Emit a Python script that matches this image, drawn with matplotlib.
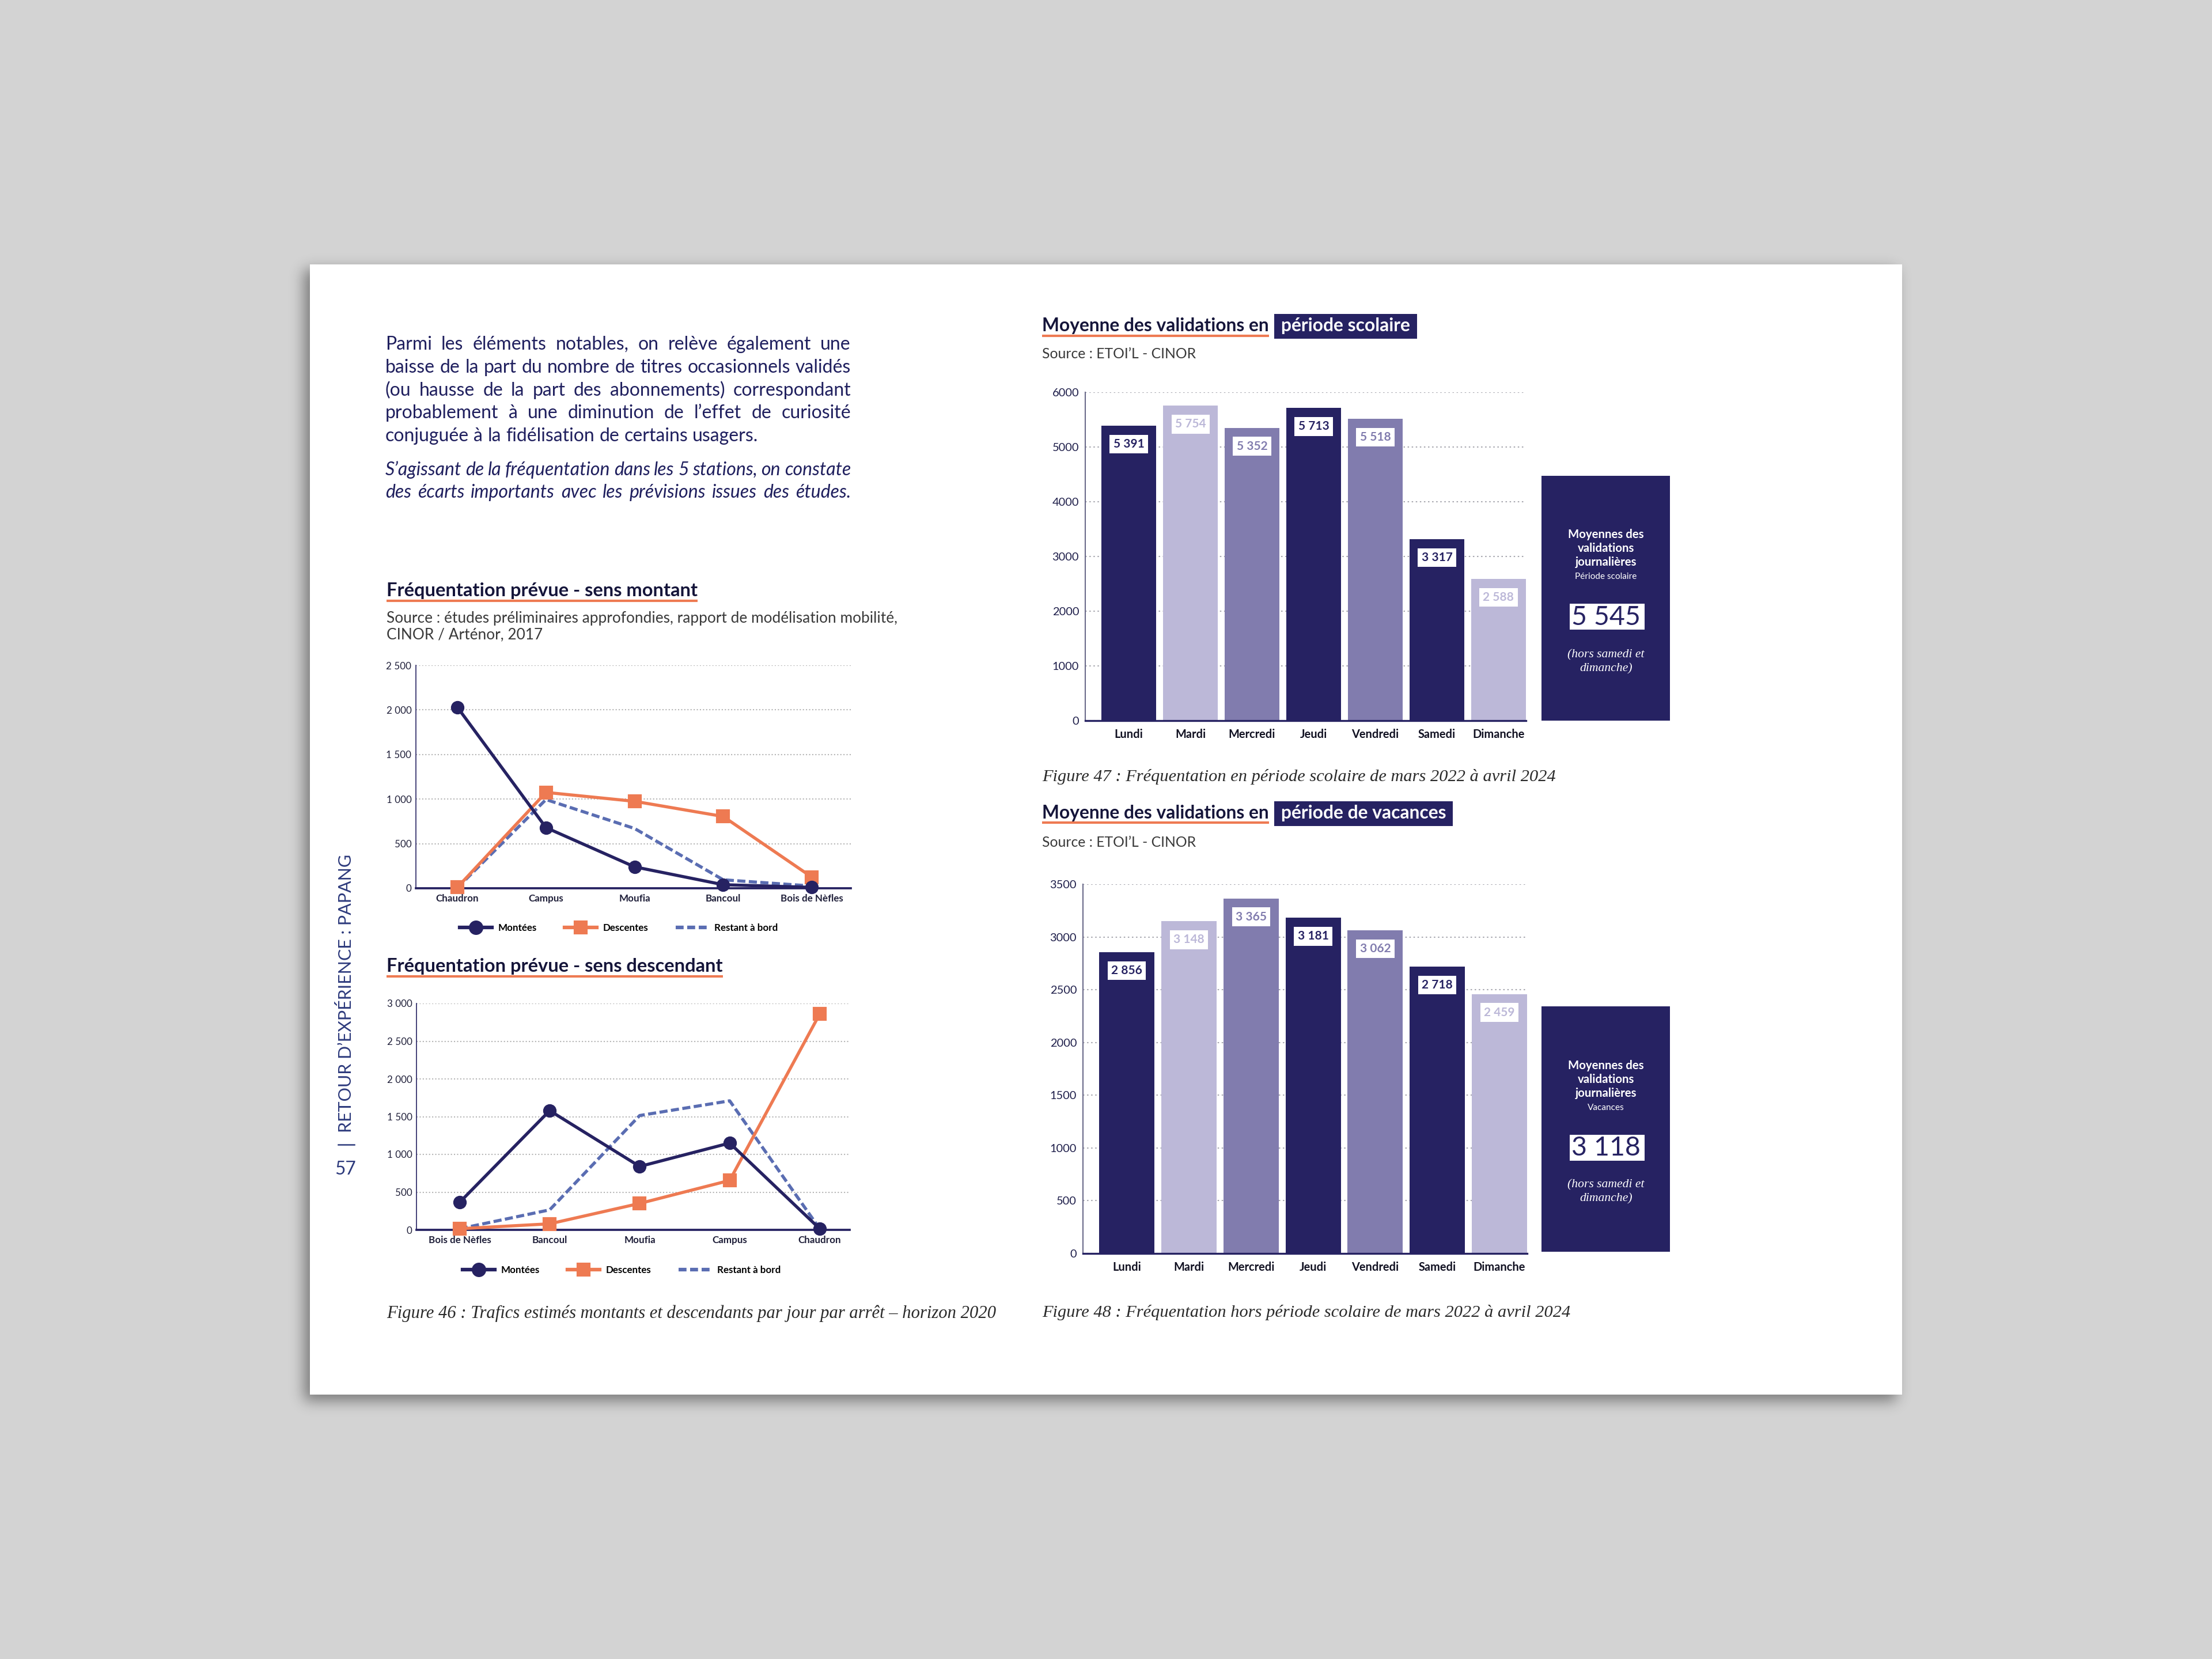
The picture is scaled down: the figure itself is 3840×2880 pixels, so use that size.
import matplotlib
matplotlib.use("Agg")
import matplotlib.pyplot as plt
from matplotlib.patches import Rectangle
from matplotlib.lines import Line2D
import numpy as np

# ---------------- data ----------------
stations_montant = ["Chaudron", "Campus", "Moufia", "Bancoul", "Bois de Nèfles"]
montant_montees = [2030, 680, 240, 40, 10]
montant_descentes = [10, 1075, 975, 805, 125]
montant_restant = [5, 995, 670, 95, 25]

stations_descendant = ["Bois de Nèfles", "Bancoul", "Moufia", "Campus", "Chaudron"]
descendant_montees = [365, 1580, 840, 1150, 15]
descendant_descentes = [15, 80, 350, 655, 2860]
descendant_restant = [15, 265, 1515, 1710, 15]

jours = ["Lundi", "Mardi", "Mercredi", "Jeudi", "Vendredi", "Samedi", "Dimanche"]
validations_scolaire = [5391, 5754, 5352, 5713, 5518, 3317, 2588]
validations_vacances = [2856, 3148, 3365, 3181, 3062, 2718, 2459]
moyenne_scolaire = 5545
moyenne_vacances = 3118

legend_labels = ["Montées", "Descentes", "Restant à bord"]

paragraph = [
    "Parmi les éléments notables, on relève également une",
    "baisse de la part du nombre de titres occasionnels validés",
    "(ou hausse de la part des abonnements) correspondant",
    "probablement à une diminution de l’effet de curiosité",
    "conjuguée à la fidélisation de certains usagers.",
]
paragraph_it = [
    "S’agissant de la fréquentation dans les 5 stations, on constate",
    "des écarts importants avec les prévisions issues des études.",
]

# ---------------- styles ----------------
W, H, DPI = 3840, 2880, 300
PX = 72 / DPI
NAVY = "#262262"
LIGHT = "#bcb8d8"
MID = "#817cae"
ORANGE = "#ee7a52"
DASHC = "#5a6db2"
TXT = "#1f1f5e"
TITLE = "#15153a"
SANS = "Lato"
SERIF = "Liberation Serif"
BAR_COLORS = [NAVY, LIGHT, MID, NAVY, MID, NAVY, LIGHT]
BG = np.array([0xd3, 0xd3, 0xd3]) / 255

fig = plt.figure(figsize=(W / DPI, H / DPI), dpi=DPI, facecolor=BG)
R = fig.canvas.get_renderer()


def FX(x):
    return x / W


def FY(y):
    return 1 - y / H


def T(x, y, s, **kw):
    kw.setdefault("family", SANS)
    return fig.text(FX(x), FY(y), s, **kw)


def rect(x0, y0, x1, y1, **kw):
    r = Rectangle((FX(x0), FY(y1)), (x1 - x0) / W, (y1 - y0) / H,
                  transform=fig.transFigure, **kw)
    fig.add_artist(r)
    return r


def hline(x0, x1, y, **kw):
    fig.add_artist(Line2D([FX(x0), FX(x1)], [FY(y), FY(y)],
                          transform=fig.transFigure, **kw))


def add_ax(x0, y0, x1, y1):
    ax = fig.add_axes([FX(x0), FY(y1), (x1 - x0) / W, (y1 - y0) / H])
    ax.set_facecolor("none")
    return ax


def fit(t, target, vertical=False):
    bb = t.get_window_extent(R)
    cur = bb.height if vertical else bb.width
    t.set_fontsize(t.get_fontsize() * target / cur)
    return t


def fmt(v):
    return f"{int(v):,}".replace(",", " ")


# ---------------- page + soft shadow ----------------
PAGE = (538, 459, 3302, 2421)
S = 4  # shadow raster down-sampling
sh = np.zeros((H // S, W // S))
ox, oy = -9, 11
sh[(PAGE[1] + oy) // S:(PAGE[3] + oy) // S, (PAGE[0] + ox) // S:(PAGE[2] + ox) // S] = 1.0
sig = 12 / S
kx = np.arange(-int(4 * sig), int(4 * sig) + 1)
kern = np.exp(-0.5 * (kx / sig) ** 2)
kern /= kern.sum()
sh = np.apply_along_axis(lambda r: np.convolve(r, kern, mode="same"), 1, sh)
sh = np.apply_along_axis(lambda c: np.convolve(c, kern, mode="same"), 0, sh)
rgba = np.zeros((H // S, W // S, 4))
rgba[..., 3] = 0.42 * sh
bgax = fig.add_axes([0, 0, 1, 1], zorder=-30)
bgax.imshow(rgba, extent=(0, W, H, 0), interpolation="bilinear", aspect="auto")
bgax.set_xlim(0, W)
bgax.set_ylim(H, 0)
bgax.axis("off")
rect(*PAGE, facecolor="white", edgecolor="none", zorder=-10)

# ---------------- side marker ----------------
vt = T(600, 1724, "RETOUR D’EXPÉRIENCE : PAPANG", rotation=90, ha="center",
       va="center", color="#2d3a7c", fontsize=8)
fit(vt, 485, vertical=True)
hline(587, 615, 1987, color="#2d3a7c", lw=0.6)
T(600, 2030, "57", ha="center", va="center", color="#2d3a7c", fontsize=7.6)

# ---------------- paragraph ----------------
X0, X1 = 669, 1477


def justify(y, line, size, last=False, **kw):
    words = line.split(" ")
    ts = [T(X0, y, w, fontsize=size, va="center", color=TXT, **kw) for w in words]
    ws = [t.get_window_extent(R).width for t in ts]
    if last:
        p1 = T(0, 0, "a a", fontsize=size, **kw)
        p2 = T(0, 0, "aa", fontsize=size, **kw)
        gap = p1.get_window_extent(R).width - p2.get_window_extent(R).width
        p1.remove()
        p2.remove()
    else:
        gap = (X1 - X0 - sum(ws)) / (len(words) - 1)
    x = X0
    for t, w in zip(ts, ws):
        t.set_x(FX(x))
        x += w + gap


probe = [T(0, 0, l, fontsize=7) for l in paragraph[:-1]]
maxw = max(p.get_window_extent(R).width for p in probe)
for p in probe:
    p.remove()
psize = 7 * 805 / maxw
for i, line in enumerate(paragraph):
    justify(598 + i * 39.8, line, psize, last=(i == len(paragraph) - 1))
for i, line in enumerate(paragraph_it):
    justify(816 + i * 39.2, line, psize, style="italic")


# ---------------- titles ----------------
def title(x, y, s, width, hl=None):
    t = T(x, y, s, fontsize=7, fontweight="bold", color=TITLE, va="center")
    fit(t, width)
    bb = t.get_window_extent(R)
    hline(bb.x0, bb.x1, y + 16.5, color=ORANGE, lw=1.0, solid_capstyle="butt")
    if hl is not None:
        hx0 = bb.x1 + 9
        t2 = T(hx0, y, hl, fontsize=t.get_fontsize(), fontweight="bold",
               color="white", va="center")
        w2 = t2.get_window_extent(R).width
        rect(hx0, y - 21.5, hx0 + w2 + 24, y + 21.5, facecolor=NAVY,
             edgecolor="none", zorder=-5)
        t2.set_x(FX(hx0 + 12))
    return t


def caption(x, y, s, width):
    t = T(x, y, s, family=SERIF, style="italic", fontsize=7, color="#2a2a2a",
          va="center")
    fit(t, width)


def source(x, y, s, width=None, size=None):
    t = T(x, y, s, fontsize=5.3, color="#3a3a3a", va="center")
    if width:
        fit(t, width)
    if size:
        t.set_fontsize(size)
    return t


# ---------------- line charts ----------------
def line_chart(box, stations, mont, desc, rest, ymax, xlim, leg_xy):
    ax = add_ax(*box)
    x = np.arange(len(stations))
    ax.plot(x, rest, color=DASHC, lw=1.3, ls=(0, (2.6, 1.1)), zorder=3,
            clip_on=False)
    ax.plot(x, desc, color=ORANGE, lw=1.3, marker="s", ms=4.6, zorder=4,
            clip_on=False)
    ax.plot(x, mont, color=NAVY, lw=1.3, marker="o", ms=4.6, zorder=5,
            clip_on=False)
    ax.set_xlim(*xlim)
    ax.set_ylim(0, ymax)
    ticks = np.arange(0, ymax + 1, 500)
    ax.set_yticks(ticks)
    ax.set_yticklabels([fmt(v) for v in ticks], fontsize=4.1, family=SANS,
                       color="#20203a")
    ax.set_xticks(x)
    ax.set_xticklabels(stations, fontsize=4.1, family=SANS, fontweight="bold",
                       color="#20203a")
    ax.tick_params(length=0)
    ax.tick_params(axis="y", pad=1.8)
    ax.tick_params(axis="x", pad=2.4)
    ax.grid(axis="y", ls=(0, (1, 1.6)), color="#b5b5b5", lw=0.5)
    ax.set_axisbelow(True)
    for s in ("top", "right"):
        ax.spines[s].set_visible(False)
    ax.spines["left"].set_color(NAVY)
    ax.spines["left"].set_linewidth(0.4)
    ax.spines["bottom"].set_color(NAVY)
    ax.spines["bottom"].set_linewidth(0.9)
    ax.spines["bottom"].set_zorder(2.5)
    handles = [
        Line2D([], [], color=NAVY, lw=1.5, marker="o", ms=5),
        Line2D([], [], color=ORANGE, lw=1.5, marker="s", ms=5),
        Line2D([], [], color=DASHC, lw=1.5, ls=(0, (2.2, 1.0))),
    ]
    ax.legend(handles, legend_labels, loc="center",
              bbox_to_anchor=(FX(leg_xy[0]), FY(leg_xy[1])),
              bbox_transform=fig.transFigure, ncol=3, frameon=False,
              prop=dict(family=SANS, weight="bold", size=4.1),
              handlelength=3.3, handletextpad=0.6, columnspacing=2.8)
    return ax


title(671, 1026, "Fréquentation prévue - sens montant", 539)
src1 = source(671, 1073, "Source : études préliminaires approfondies, rapport de modélisation mobilité,", width=886)
source(671, 1102, "CINOR / Arténor, 2017", size=src1.get_fontsize())
line_chart((722, 1155, 1477, 1542), stations_montant, montant_montees,
           montant_descentes, montant_restant, 2500, (-0.468, 4.44), (1074, 1611))

title(671, 1678, "Fréquentation prévue - sens descendant", 583)
line_chart((723, 1742, 1475, 2135), stations_descendant, descendant_montees,
           descendant_descentes, descendant_restant, 3000, (-0.48, 4.333),
           (1079, 2205))
caption(671, 2280, "Figure 46 : Trafics estimés montants et descendants par jour par arrêt – horizon 2020", 1060)


# ---------------- bar charts ----------------
def bar_chart(box, vals, ymax, step):
    ax = add_ax(*box)
    x = np.arange(len(jours))
    ax.bar(x, vals, width=0.89, color=BAR_COLORS, zorder=2)
    ax.set_xlim(-0.707, 6.445)
    ax.set_ylim(0, ymax)
    ticks = np.arange(0, ymax + 1, step)
    ax.set_yticks(ticks)
    ax.set_yticklabels([str(v) for v in ticks], fontsize=4.8, family=SANS,
                       color="#1e1e4a")
    ax.set_xticks(x)
    ax.set_xticklabels(jours, fontsize=4.8, family=SANS, fontweight="bold",
                       color="#111122")
    ax.tick_params(length=0)
    ax.tick_params(axis="y", pad=2.6)
    ax.tick_params(axis="x", pad=3.4)
    ax.grid(axis="y", ls=(0, (1.2, 2.2)), color="#a8a8b0", lw=0.5)
    ax.set_axisbelow(True)
    for s in ("top", "right"):
        ax.spines[s].set_visible(False)
    ax.spines["left"].set_color("#6a6a8a")
    ax.spines["left"].set_linewidth(0.5)
    ax.spines["bottom"].set_color(NAVY)
    ax.spines["bottom"].set_linewidth(0.8)
    for xi, v, c in zip(x, vals, BAR_COLORS):
        ax.annotate(fmt(v), (xi, v), xytext=(0, -32 * PX),
                    textcoords="offset points", ha="center", va="center",
                    fontsize=5.0, fontweight="bold", color=c, family=SANS,
                    bbox=dict(boxstyle="square,pad=0.3", fc="white", ec="none"),
                    zorder=5)
    return ax


def side_box(y0, y1, ys, period, avg):
    rect(2676, y0, 2899, y1, facecolor=NAVY, edgecolor="none", zorder=-5)
    cx = 2788
    for yy, s in zip(ys[:3], ["Moyennes des", "validations", "journalières"]):
        T(cx, yy, s, ha="center", va="center", color="white", fontsize=4.9,
          fontweight="bold")
    T(cx, ys[3], period, ha="center", va="center", color="white", fontsize=3.7)
    rect(2725, ys[4] - 22.5, 2855, ys[4] + 22.5, facecolor="white",
         edgecolor="none", zorder=-4)
    T(cx, ys[4] + 1, fmt(avg), ha="center", va="center", color=NAVY,
      fontsize=11.2)
    T(cx, ys[5], "(hors samedi et", ha="center", va="center", color="white",
      fontsize=5.2, family=SERIF, style="italic")
    T(cx, ys[6], "dimanche)", ha="center", va="center", color="white",
      fontsize=5.2, family=SERIF, style="italic")


title(1809, 566, "Moyenne des validations en", 395, hl="période scolaire")
source(1809, 615, "Source : ETOI’L - CINOR", width=267)
bar_chart((1884, 681, 2649, 1251), validations_scolaire, 6000, 1000)
side_box(826, 1251, [928, 952, 976, 1001, 1071, 1137, 1161], "Période scolaire",
         moyenne_scolaire)
caption(1809, 1349, "Figure 47 : Fréquentation en période scolaire de mars 2022 à avril 2024", 889)

title(1809, 1412, "Moyenne des validations en", 395, hl="période de vacances")
source(1809, 1462, "Source : ETOI’L - CINOR", width=267)
bar_chart((1880, 1535, 2651, 2176), validations_vacances, 3500, 500)
side_box(1747, 2173, [1850, 1874, 1898, 1923, 1992, 2057, 2081], "Vacances",
         moyenne_vacances)
caption(1809, 2279, "Figure 48 : Fréquentation hors période scolaire de mars 2022 à avril 2024", 915)

fig.savefig("out.png", dpi=DPI, facecolor=fig.get_facecolor())
